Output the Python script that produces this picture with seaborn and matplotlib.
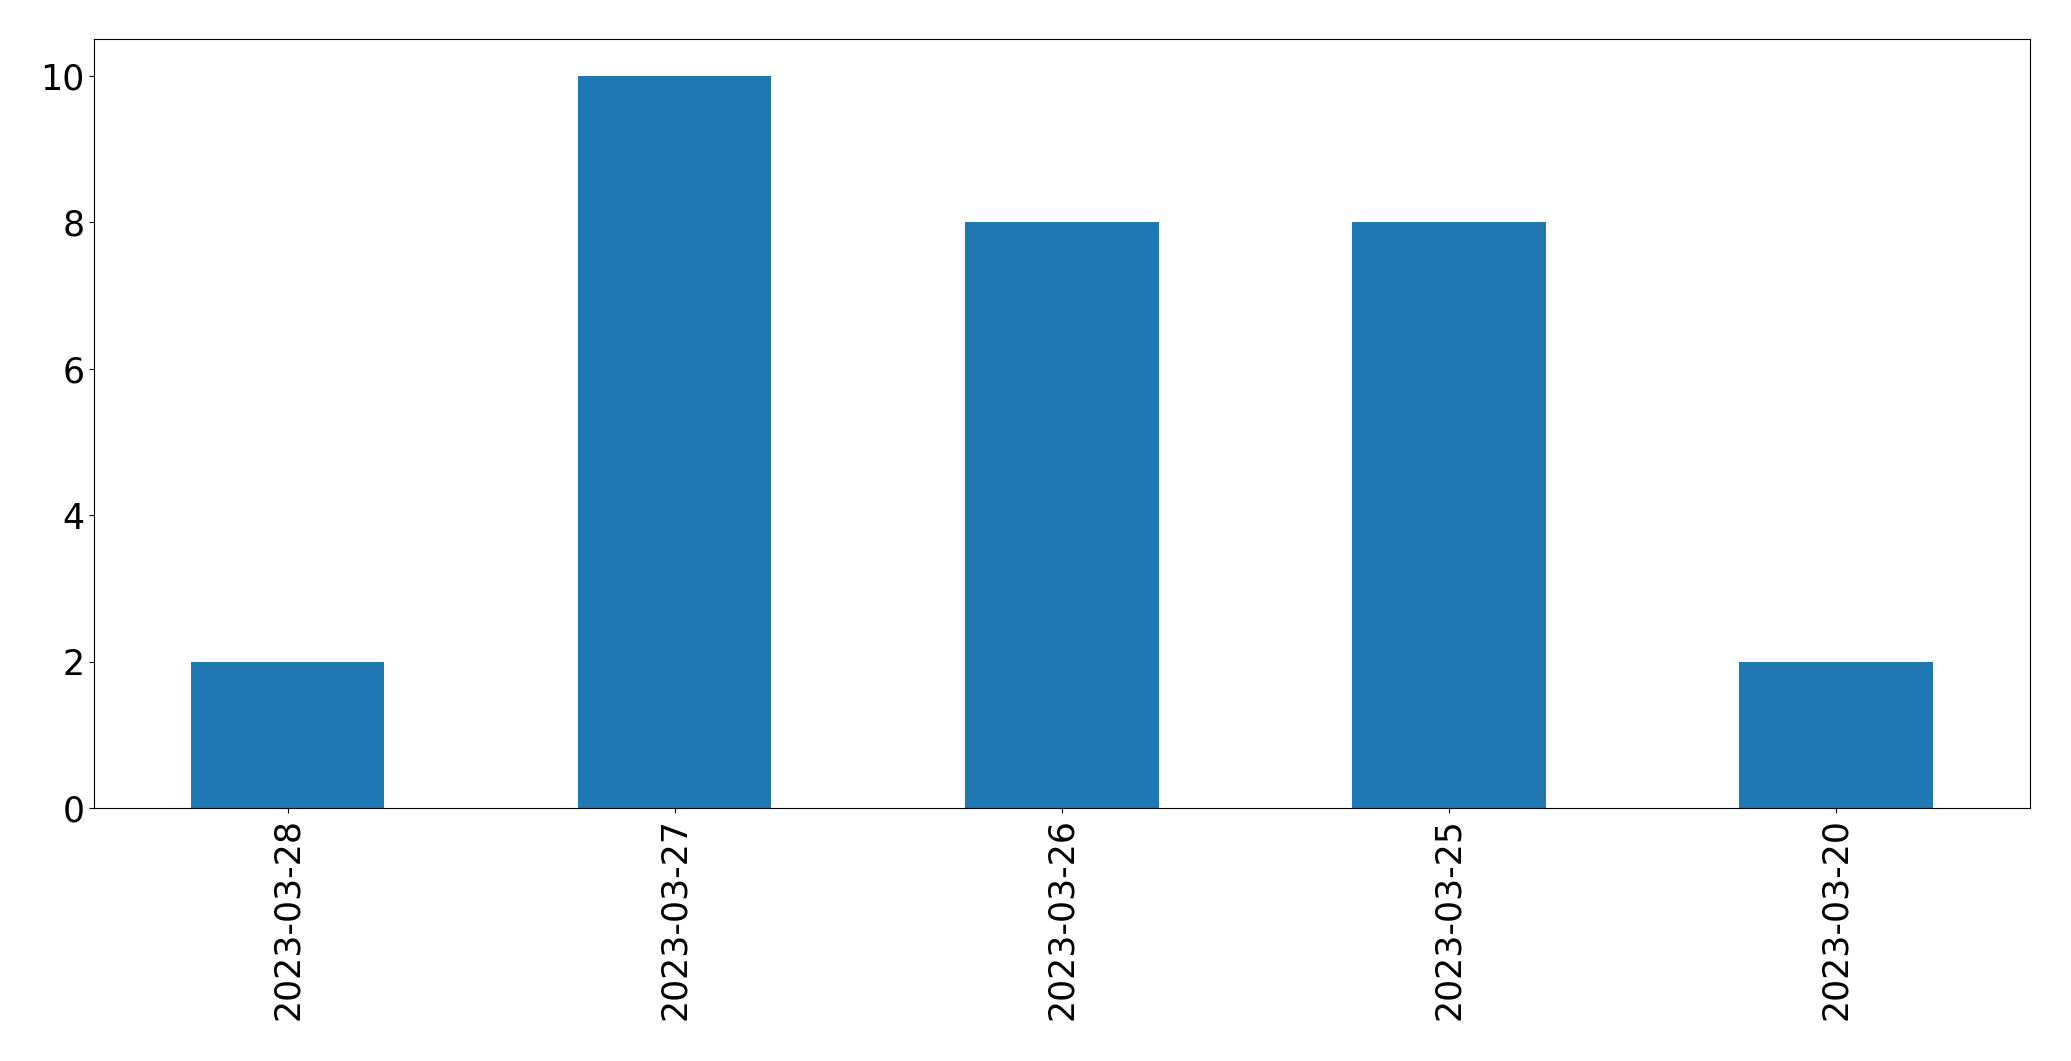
import pandas as pd
import seaborn as sns
import matplotlib.pyplot as plt

dates = ['2023-03-28', '2023-03-27', '2023-03-26', '2023-03-25', '2023-03-20']
counts = [2, 10, 8, 8, 2]

df = pd.DataFrame({'date': dates, 'count': counts})

fig = plt.figure(figsize=(20.71, 10.61), dpi=100)
ax = fig.add_axes([0.0454, 0.2385, 0.9346, 0.7245])
sns.barplot(x='date', y='count', data=df, order=dates, color='#1f77b4',
            saturation=1, width=0.5, linewidth=0, ax=ax)
ax.set_xlim(-0.5, len(dates) - 0.5)
ax.set_ylim(0, 10.5)
ax.set_yticks([0, 2, 4, 6, 8, 10])
ax.set_xlabel('')
ax.set_ylabel('')
ax.tick_params(axis='both', labelsize=25)
ax.tick_params(axis='x', labelrotation=90)

plt.savefig('out.png', dpi=100)
